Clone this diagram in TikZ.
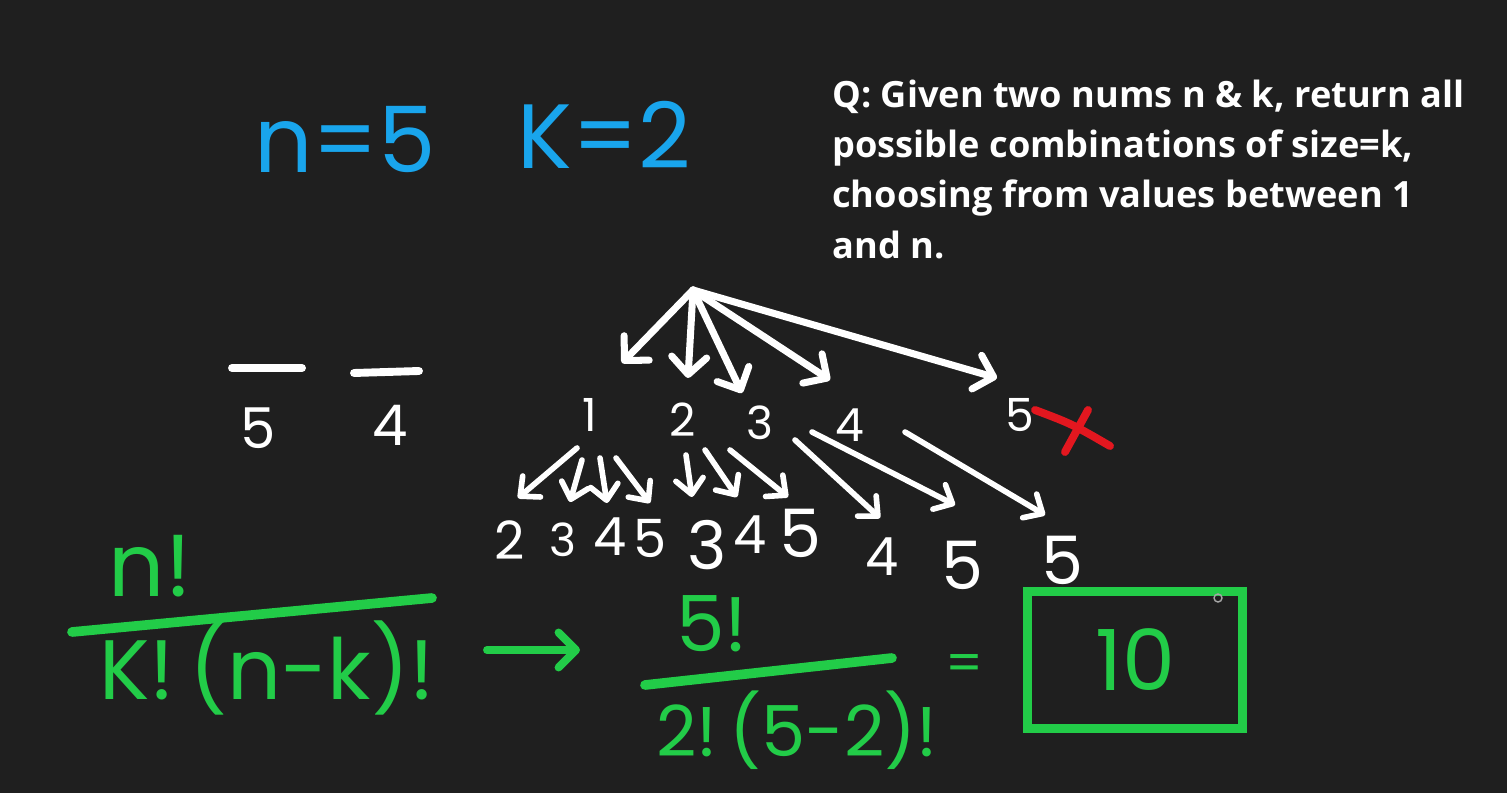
\documentclass[tikz,border=0pt]{standalone}
\usepackage{fontspec}
\setmainfont{Poppins}
\newfontfamily\qfont{Open Sans}
\usepackage{tikz}
\usetikzlibrary{arrows.meta,positioning,calc}
\definecolor{board}{HTML}{1F1F1F}
\definecolor{chalk}{HTML}{FFFFFF}
\definecolor{sky}{HTML}{19A5EC}
\definecolor{leaf}{HTML}{22CC48}
\definecolor{alarm}{HTML}{E3171F}

\begin{document}
\begin{tikzpicture}[x=0.02cm,y=-0.02cm,
  digit/.style={text=chalk,inner sep=2pt,font={\fontsize{26}{26}\selectfont}},
  leafdigit/.style={digit,font={\fontsize{30}{30}\selectfont}},
  bigleaf/.style={digit,font={\fontsize{38}{38}\selectfont}},
  branch/.style={draw=chalk,line width=4pt,line cap=round,-{Straight Barb[length=3.5mm,width=7mm,round]}},
  twig/.style={branch,line width=3.2pt,-{Straight Barb[length=3mm,width=5.5mm,round]}},
  slot/.style={draw=chalk,line width=4.5pt,line cap=round},
  greenink/.style={text=leaf,inner sep=1pt},
  bar/.style={draw=leaf,line width=5.5pt,line cap=round}]
\fill[board] (0,0) rectangle (1507,793);

\node[text=sky,font={\fontsize{52}{52}\selectfont}] (nval) at (345,140) {n=5};
\node[text=sky,font={\fontsize{52}{52}\selectfont}] (kval) at (604,135) {K=2};

\node[anchor=north west,inner sep=0pt,text=chalk,align=left,font={\qfont\bfseries\fontsize{20.6}{28.5}\selectfont}] (question) at (832,80)
  {Q: Given two nums n \& k, return all\\possible combinations of size=k,\\choosing from values between 1\\and n.};

\node[digit,font={\fontsize{32}{32}\selectfont}] (slotA) at (258,428) {5};
\node[digit,font={\fontsize{32}{32}\selectfont}] (slotB) at (390,425) {4};
\draw[slot] (232,368) -- (302,368);
\draw[slot] (354,373) -- (419,371);

\coordinate (top) at (693,290);
\node[digit] (c1) at (590,415) {1};
\node[digit] (c2) at (683,420) {2};
\node[digit] (c3) at (760,423) {3};
\node[digit] (c4) at (850,425) {4};
\node[digit] (c5) at (1020,415) {5};
\draw[branch] (top) -- ($(c1)+(32,-52)$);
\draw[branch] (top) -- ($(c2)+(5,-42)$);
\draw[branch] (top) -- ($(c3)+(-18,-30)$);
\draw[branch] (top) -- ($(c4)+(-20,-45)$);
\draw[branch] (top) -- ($(c5)+(-23,-37)$);
\draw[alarm,line width=4.5pt,line cap=round] (1035,410) .. controls (1072,424) .. (1110,446);
\draw[alarm,line width=4.5pt,line cap=round] (1088,410) -- (1065,452);

\node[leafdigit] (c12) at (510,540) {2};
\node[leafdigit,font={\fontsize{26}{26}\selectfont}] (c13) at (563,540) {3};
\node[leafdigit] (c14) at (610,537) {4};
\node[leafdigit] (c15) at (650,538) {5};
\node[bigleaf] (c23) at (707,545) {3};
\node[leafdigit] (c24) at (750,535) {4};
\node[bigleaf] (c25) at (800,533) {5};
\node[leafdigit] (c34) at (882,557) {4};
\node[bigleaf] (c35) at (962,565) {5};
\node[bigleaf] (c45) at (1062,560) {5};
\draw[twig] ($(c1)+(-13,33)$) -- ($(c12)+(8,-42)$);
\draw[twig] ($(c1)+(-8,45)$) -- ($(c13)+(7,-38)$);
\draw[twig] ($(c1)+(10,43)$) -- ($(c14)+(-3,-34)$);
\draw[twig] ($(c1)+(26,43)$) -- ($(c15)+(0,-35)$);
\draw[twig] ($(c2)+(3,35)$) -- ($(c23)+(-15,-48)$);
\draw[twig] ($(c2)+(22,30)$) -- ($(c24)+(-13,-38)$);
\draw[twig] ($(c2)+(47,30)$) -- ($(c25)+(-12,-36)$);
\draw[twig] ($(c3)+(35,17)$) -- ($(c34)+(-2,-39)$);
\draw[twig] ($(c3)+(52,9)$) -- ($(c35)+(-7,-60)$);
\draw[twig] ($(c4)+(55,7)$) -- ($(c45)+(-17,-45)$);

\node[greenink,font={\fontsize{50}{50}\selectfont}] (numA) at (150,566) {n!};
\coordinate (barAl) at (72,632);
\coordinate (barAr) at (432,598);
\draw[bar] (barAl) -- (barAr);
\node[greenink,font={\fontsize{48}{48}\selectfont}] (denA) at (267,668) {K!\,(n-k)!};
\coordinate (thenA) at (487,650);
\coordinate (thenB) at (580,650);
\draw[bar,line width=4.5pt,-{Straight Barb[length=3.5mm,width=7mm,round]}] (thenA) -- (thenB);

\node[greenink,font={\fontsize{44}{44}\selectfont}] (numB) at (712,624) {5!};
\coordinate (barBl) at (645,685);
\coordinate (barBr) at (892,658);
\draw[bar] (barBl) -- (barBr);
\node[greenink,font={\fontsize{40}{40}\selectfont}] (denB) at (797,730) {2!\,(5-2)!};
\node[greenink,font={\fontsize{30}{30}\selectfont}] (eq) at (965,668) {=};
\node[draw=leaf,line width=5pt,minimum width=4.3cm,minimum height=2.75cm,greenink,font={\fontsize{48}{48}\selectfont}] (answer) at (1135,660) {10};
\draw[gray!70,line width=0.8pt] (1218,598) circle[radius=0.8mm];
\end{tikzpicture}
\end{document}
